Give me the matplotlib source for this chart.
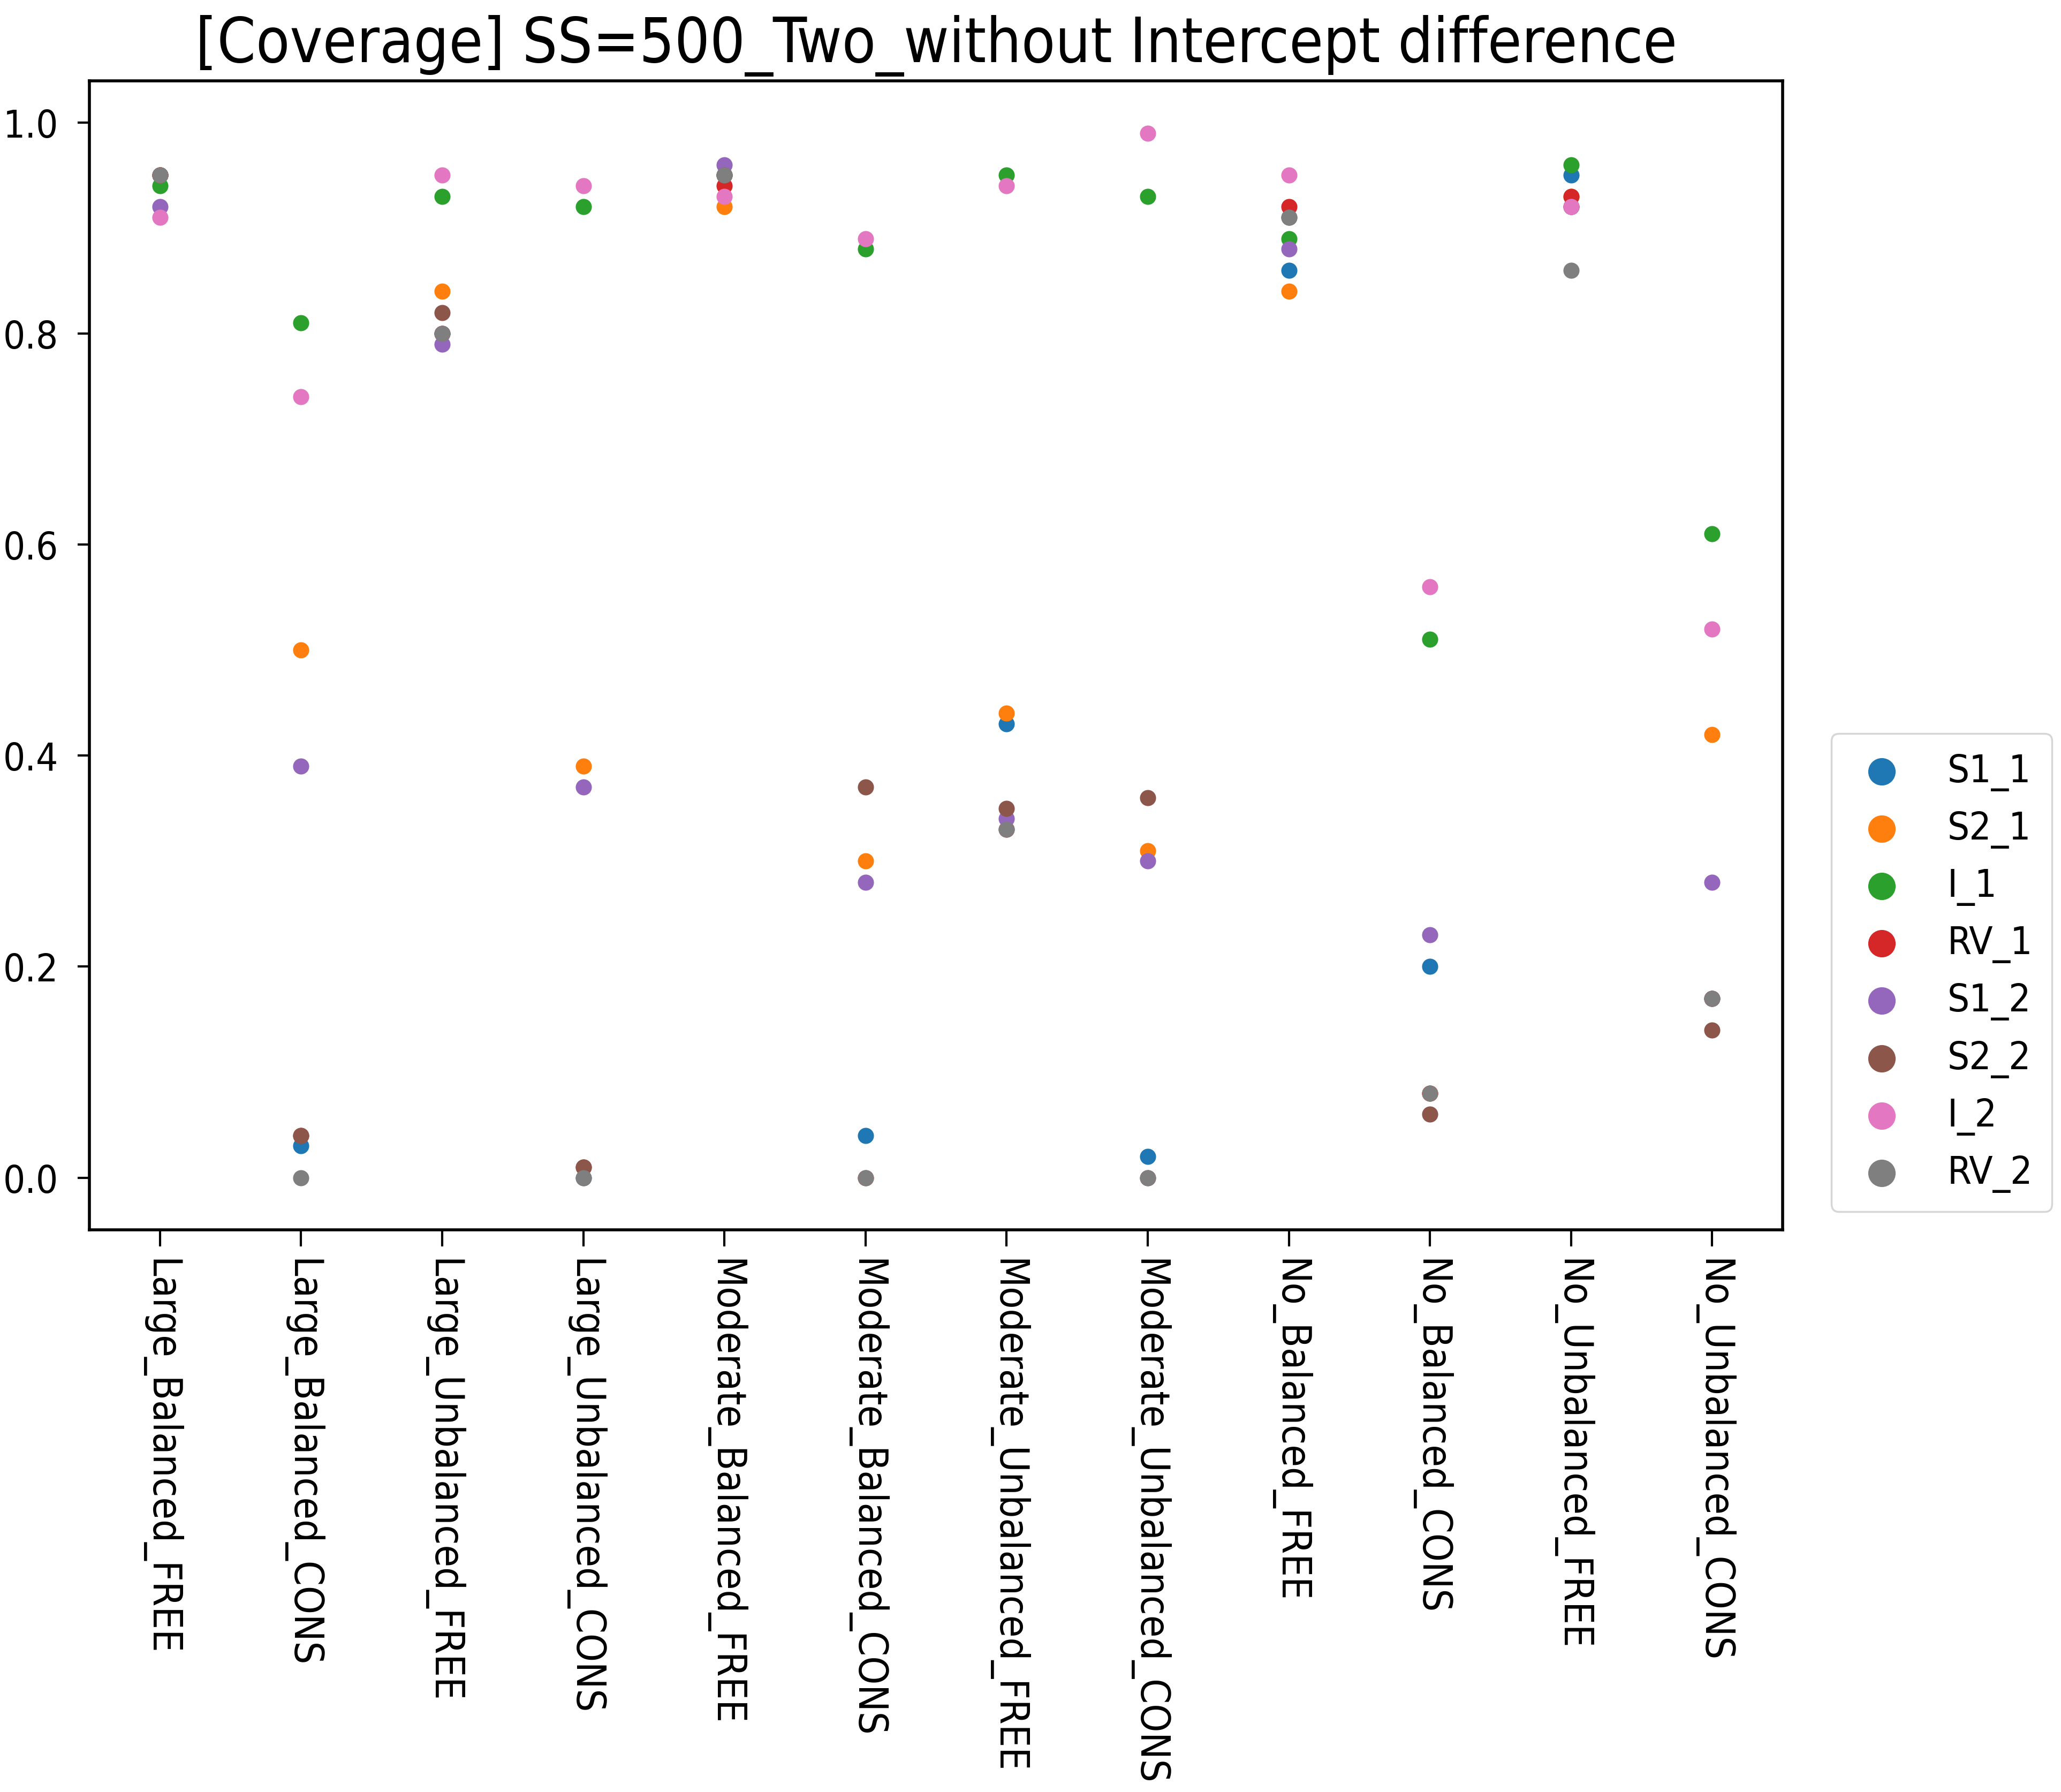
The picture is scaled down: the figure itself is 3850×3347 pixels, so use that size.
import os
import matplotlib
matplotlib.use("Agg")
import matplotlib.pyplot as plt
import matplotlib.font_manager as fm
import numpy as np

categories = ["Large_Balanced_FREE", "Large_Balanced_CONS", "Large_Unbalanced_FREE",
              "Large_Unbalanced_CONS", "Moderate_Balanced_FREE", "Moderate_Balanced_CONS",
              "Moderate_Unbalanced_FREE", "Moderate_Unbalanced_CONS", "No_Balanced_FREE",
              "No_Balanced_CONS", "No_Unbalanced_FREE", "No_Unbalanced_CONS"]

S1_1 = [0.95, 0.03, 0.80, 0.00, 0.95, 0.04, 0.43, 0.02, 0.86, 0.20, 0.95, 0.17]
S2_1 = [0.95, 0.50, 0.84, 0.39, 0.92, 0.30, 0.44, 0.31, 0.84, 0.08, 0.93, 0.42]
I_1  = [0.94, 0.81, 0.93, 0.92, 0.95, 0.88, 0.95, 0.93, 0.89, 0.51, 0.96, 0.61]
RV_1 = [0.95, 0.04, 0.80, 0.01, 0.94, 0.00, 0.33, 0.00, 0.92, 0.08, 0.93, 0.17]
S1_2 = [0.92, 0.39, 0.79, 0.37, 0.96, 0.28, 0.34, 0.30, 0.88, 0.23, 0.92, 0.28]
S2_2 = [0.95, 0.04, 0.82, 0.01, 0.95, 0.37, 0.35, 0.36, 0.91, 0.06, 0.92, 0.14]
I_2  = [0.91, 0.74, 0.95, 0.94, 0.93, 0.89, 0.94, 0.99, 0.95, 0.56, 0.92, 0.52]
RV_2 = [0.95, 0.00, 0.80, 0.00, 0.95, 0.00, 0.33, 0.00, 0.91, 0.08, 0.86, 0.17]

series_names = ["S1_1", "S2_1", "I_1", "RV_1", "S1_2", "S2_2", "I_2", "RV_2"]
series_values = [S1_1, S2_1, I_1, RV_1, S1_2, S2_2, I_2, RV_2]
colors = ["#1f77b4", "#ff7f0e", "#2ca02c", "#d62728", "#9467bd", "#8c564b", "#e377c2", "#7f7f7f"]

title = "[Coverage] SS=500_Two_without Intercept difference"

# Prefer the condensed DejaVu face if available; fall back to regular DejaVu Sans
cond = [f.fname for f in fm.fontManager.ttflist
        if os.path.basename(f.fname) == "DejaVuSansCondensed.ttf"]
if cond:
    def fp(size):
        return fm.FontProperties(fname=cond[0], size=size)
    base, xsize, tsize = 52, 54, 83
else:
    def fp(size):
        return fm.FontProperties(family="DejaVu Sans", size=size)
    base, xsize, tsize = 47, 49, 75

fig = plt.figure(figsize=(38.5, 33.48), dpi=100)
ax = fig.add_axes([0.0434, 0.3136, 0.8216, 0.641])

x = np.arange(len(categories))
for name, vals, c in zip(series_names, series_values, colors):
    ax.scatter(x, vals, s=470, color=c, label=name, linewidths=0)

ax.set_xlim(-0.5, len(categories) - 0.5)
ax.set_ylim(-0.0495, 1.0395)
ax.set_xticks(x)
ax.set_xticklabels(categories, rotation=-90, va="top", ha="center", fontproperties=fp(xsize))
yt = [0.0, 0.2, 0.4, 0.6, 0.8, 1.0]
ax.set_yticks(yt)
ax.set_yticklabels([f"{v:.1f}" for v in yt], fontproperties=fp(base))
ax.tick_params(axis="y", length=16, width=3, pad=26)
ax.tick_params(axis="x", length=22, width=3, pad=16)
for sp in ax.spines.values():
    sp.set_linewidth(4)

ax.set_title(title, fontproperties=fp(tsize), pad=26)

leg = ax.legend(loc="center left", bbox_to_anchor=(1.0287, 0.224), borderaxespad=0,
                prop=fp(base), markerscale=1.7, handlelength=1.6, handletextpad=0.9,
                borderpad=0.5, labelspacing=0.5, frameon=True)
leg.get_frame().set_linewidth(2.5)

fig.savefig("out.png", dpi=100)
